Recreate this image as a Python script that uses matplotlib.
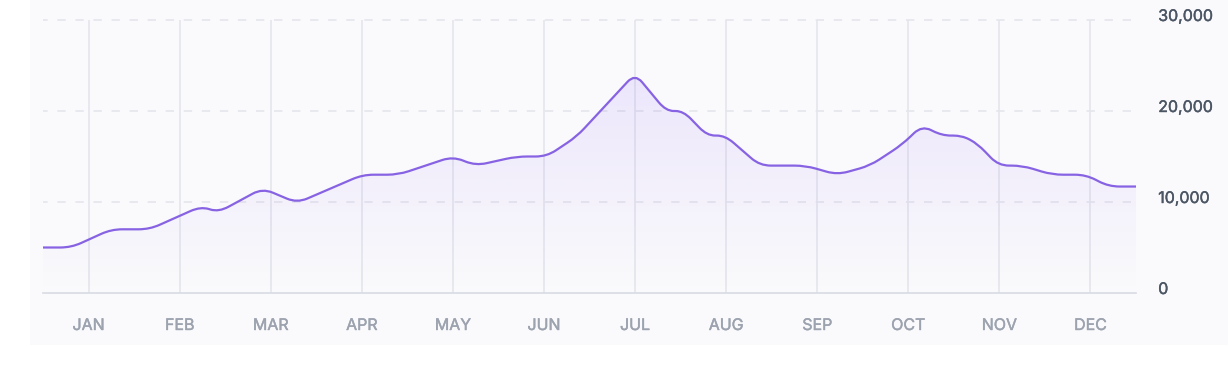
import numpy as np
import matplotlib
matplotlib.use("Agg")
import matplotlib.pyplot as plt
import matplotlib.transforms as mtransforms
import matplotlib.patheffects as pe
from matplotlib.path import Path
from matplotlib.patches import PathPatch, Rectangle

plt.rcParams['font.family'] = ['Inter', 'DejaVu Sans']
plt.rcParams['lines.scale_dashes'] = False

# ---- data ----
months = ["JAN", "FEB", "MAR", "APR", "MAY", "JUN",
          "JUL", "AUG", "SEP", "OCT", "NOV", "DEC"]
# position along the year, in months (0 = JAN)
month_pos = [-0.5, -0.19, 0.25, 0.67, 1.23, 1.43, 1.91, 2.29, 3.01, 3.40,
             4.00, 4.25, 4.70, 5.03, 5.36, 6.00, 6.34, 6.53, 6.79, 6.99,
             7.37, 7.87, 8.22, 8.58, 8.93, 9.15, 9.37, 9.59, 9.76, 9.99,
             10.25, 10.58, 10.95, 11.20, 11.5]
values = [5000, 5000, 7000, 7000, 9500, 8900, 11500, 9900, 13000, 13000,
          15000, 14000, 15000, 15000, 17200, 24100, 20000, 20000, 17300, 17300,
          14000, 14000, 13000, 14000, 16300, 18400, 17300, 17300, 16400, 14000,
          14000, 13000, 13000, 11700, 11700]
y_ticks = [0, 10000, 20000, 30000]
y_tick_labels = ["0", "10,000", "20,000", "30,000"]

LINE = '#8763e3'
GRID = '#e4e6ec'
PANEL = '#fafafc'
XCOL = '#9ca3af'
YCOL = '#4b5563'

fig = plt.figure(figsize=(12.3, 3.9), dpi=100)
fig.patch.set_facecolor('white')
W, H = 1230, 390

# light panel behind the chart
fig.patches.append(Rectangle((30 / W, (H - 345) / H), 1198 / W, 345 / H,
                             transform=fig.transFigure, facecolor=PANEL,
                             edgecolor='none', zorder=-10))

ax = fig.add_axes([43 / W, (H - 293) / H, 1093 / W, 273 / H])
ax.set_zorder(5)
ax.set_facecolor('none')
ax.set_xlim(-0.5, 11.5)
ax.set_ylim(0, 30000)
for s in ax.spines.values():
    s.set_visible(False)

# vertical month gridlines
for i in range(len(months)):
    ax.axvline(i, color=GRID, lw=1.2, zorder=1)
# horizontal dashed gridlines
for yv in y_ticks[1:]:
    ax.axhline(yv, color=GRID, lw=1.2, zorder=1, clip_on=False,
               linestyle=(2.66, (6.0, 7.0)))
# baseline
ax.axhline(0, color='#d8dbe2', lw=1.2, zorder=2, clip_on=False)

# ticks
ax.set_xticks(range(len(months)))
ax.set_xticklabels(months)
ax.tick_params(axis='x', length=0, pad=18, labelsize=11.5, labelcolor=XCOL)
ax.yaxis.tick_right()
ax.set_yticks(y_ticks)
ax.set_yticklabels(y_tick_labels)
ax.tick_params(axis='y', length=0, pad=16, labelsize=11.5, labelcolor=YCOL)
off = mtransforms.ScaledTranslation(0, 5 / 100, fig.dpi_scale_trans)
for lab in ax.get_yticklabels():
    lab.set_transform(lab.get_transform() + off)
    lab.set_path_effects([pe.withStroke(linewidth=0.3, foreground=YCOL)])
for lab in ax.get_xticklabels():
    lab.set_path_effects([pe.withStroke(linewidth=0.3, foreground=XCOL)])

# rounded-corner path through the data points (rendering only)
def rounded(xd, yd, r=11.0):
    pts = ax.transData.transform(np.column_stack([xd, yd]))
    verts = [pts[0]]
    codes = [Path.MOVETO]
    for i in range(1, len(pts) - 1):
        p0, p1, p2 = pts[i - 1], pts[i], pts[i + 1]
        v1, v2 = p0 - p1, p2 - p1
        l1, l2 = np.hypot(*v1), np.hypot(*v2)
        d1, d2 = min(r, 0.45 * l1), min(r, 0.45 * l2)
        a = p1 + v1 / l1 * d1
        b = p1 + v2 / l2 * d2
        verts += [a, p1, b]
        codes += [Path.LINETO, Path.CURVE3, Path.CURVE3]
    verts.append(pts[-1])
    codes.append(Path.LINETO)
    return ax.transData.inverted().transform(np.array(verts)), codes

v, c = rounded(month_pos, values)
line_path = Path(v, c)
fill_verts = np.vstack([v, [[month_pos[-1], 0], [month_pos[0], 0], [month_pos[0], 0]]])
fill_codes = c + [Path.LINETO, Path.LINETO, Path.CLOSEPOLY]
fill_patch = PathPatch(Path(fill_verts, fill_codes), facecolor='none',
                       edgecolor='none', transform=ax.transData)
ax.add_patch(fill_patch)

# gradient fill
n = 256
grad = np.zeros((n, 1, 4))
rgb = matplotlib.colors.to_rgb('#8b5cf6')
grad[:, 0, :3] = rgb
grad[:, 0, 3] = np.linspace(0.16, 0.0, n)
im = ax.imshow(grad, extent=[-0.5, 11.5, 0, 30000], aspect='auto',
               origin='upper', zorder=2, interpolation='bilinear')
im.set_clip_path(fill_patch)

ax.add_patch(PathPatch(line_path, facecolor='none', edgecolor=LINE, lw=1.6,
                       transform=ax.transData, zorder=4, capstyle='butt',
                       joinstyle='round'))

fig.savefig('out.png', dpi=100, facecolor='white')
